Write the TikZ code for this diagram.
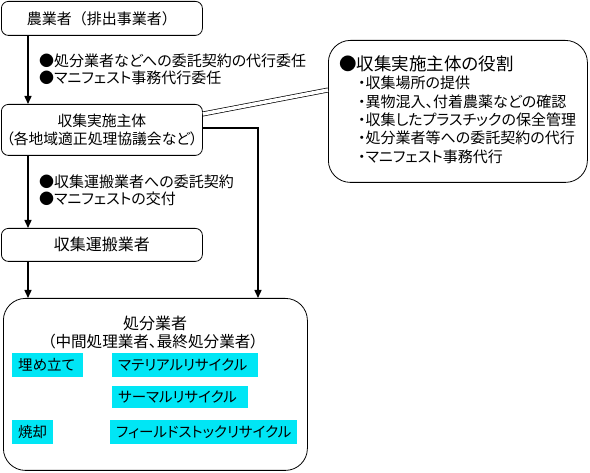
\documentclass[tikz,border=0pt]{standalone}
\usepackage{fontspec}
\setmainfont{Noto Sans CJK JP}[RawFeature={+palt}]
\newfontfamily\fullfont{Noto Sans CJK JP}
\usetikzlibrary{arrows.meta,calc}
\definecolor{cyanc}{RGB}{0,230,245}
\newcommand{\fsz}[1]{\fontsize{#1}{18}\selectfont}
\begin{document}
\begin{tikzpicture}[x=1pt,y=-1pt,
  font=\fsz{15},
  sbox/.style={draw, line width=0.8pt, rounded corners=7pt, inner sep=0pt, anchor=north west},
  bbox/.style={draw, line width=0.8pt, rounded corners=22pt, inner sep=0pt, anchor=north west},
  conn/.style={line width=1.4pt, -{Triangle[length=8pt,width=7pt]}},
  lbl/.style={anchor=west, inner sep=0pt},
  ctr/.style={inner sep=0pt},
  cybox/.style={fill=cyanc, inner xsep=6pt, inner ysep=0pt, anchor=north west, align=left, font=\fsz{14.5}}]
\useasboundingbox (0,0) rectangle (590,473);
% boxes
\node[sbox, minimum width=201pt, minimum height=34pt, font=\fullfont\fsz{15}] (b1) at (1,1) {農業者（排出事業者）};
\node[sbox, minimum width=201pt, minimum height=51pt, align=center, font=\fsz{14.8}] (b2) at (1,104) {収集実施主体\\（各地域適正処理協議会など）};
\node[sbox, minimum width=201pt, minimum height=33pt, font=\fsz{16}] (b4) at (1,228) {収集運搬業者};
\node[bbox, minimum width=259pt, minimum height=142pt] (b3) at (328,40) {};
\node[bbox, minimum width=304pt, minimum height=172pt] (b5) at (3,298) {};
% labels
\node[lbl] (t1) at (39,61) {●処分業者などへの委託契約の代行委任};
\node[lbl] (t2) at (39,78) {●マニフェスト事務代行委任};
\node[lbl] (t3) at (39,182) {●収集運搬業者への委託契約};
\node[lbl] (t4) at (39,199) {●マニフェストの交付};
% role box text
\node[lbl, font=\fsz{17.5}] (r0) at (339,64) {●収集実施主体の役割};
\node[lbl] (r1) at (358,83) {・収集場所の提供};
\node[lbl] (r2) at (358,102) {・異物混入、付着農薬などの確認};
\node[lbl] (r3) at (358,120) {・収集したプラスチックの保全管理};
\node[lbl] (r4) at (358,138) {・処分業者等への委託契約の代行};
\node[lbl] (r5) at (358,157) {・マニフェスト事務代行};
% disposal box text
\node[ctr, font=\fsz{16}] (d1) at (155,323) {処分業者};
\node[ctr, font=\fsz{15.6}] (d2) at (153,342) {（中間処理業者、最終処分業者）};
\node[cybox, text width=59pt, minimum height=24pt] (c1) at (12,353) {埋め立て};
\node[cybox, text width=134pt, minimum height=24pt] (c2) at (112,353) {マテリアルリサイクル};
\node[cybox, text width=124pt, minimum height=22pt] (c3) at (112,386) {サーマルリサイクル};
\node[cybox, text width=29pt, minimum height=24pt] (c4) at (12,420) {焼却};
\node[cybox, text width=175pt, minimum height=24pt] (c5) at (110,420) {フィールドストックリサイクル};
% connectors
\draw[conn] ([xshift=27pt]b1.south west) -- ([xshift=27pt]b2.north west);
\draw[conn] ([xshift=27pt]b2.south west) -- ([xshift=27pt]b4.north west);
\draw[conn] ([xshift=27pt]b4.south west) -- ([xshift=25pt]b5.north west);
\draw[conn] ([yshift=2pt]b2.east) -| ([xshift=255pt]b5.north west);
\draw[double, double distance=3.5pt, line width=0.7pt] ([yshift=-10pt]b2.north east) -- ([yshift=-50pt]b3.north west);
\end{tikzpicture}
\end{document}
